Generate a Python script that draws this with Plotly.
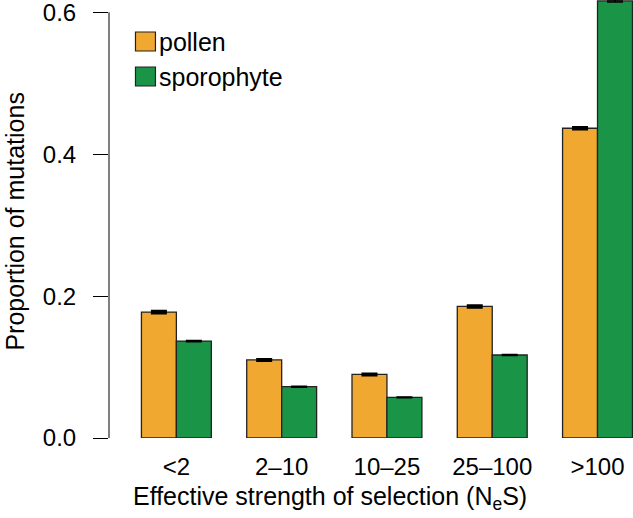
import plotly.graph_objects as go

categories = ["<2", "2–10", "10–25", "25–100", ">100"]
pollen = [0.1775, 0.110, 0.0896, 0.1854, 0.4366]
sporophyte = [0.1366, 0.0723, 0.0572, 0.117, 0.616]
pollen_err = [0.0015, 0.001, 0.001, 0.0015, 0.0015]
sporophyte_err = [0.0008, 0.0006, 0.0006, 0.0008, 0.0015]
y_ticks = [0.0, 0.2, 0.4, 0.6]
y_ticktext = ["0.0", "0.2", "0.4", "0.6"]

ORANGE = "#F0A830"
GREEN = "#1A9548"
FONT = "Liberation Sans, Arial, Helvetica, sans-serif"

W, H = 633, 518
L, R, T, B = 108.5, 0, 0, 80
pw, ph = W - L - R, H - T - B

def px(x):
    return (x - L) / pw

def py(y):
    return (H - B - y) / ph

fig = go.Figure()
fig.add_trace(go.Bar(
    x=categories, y=pollen, name="pollen",
    marker=dict(color=ORANGE, line=dict(color="#222", width=1.3)),
    error_y=dict(type="data", array=pollen_err, color="black", thickness=2.5, width=8),
))
fig.add_trace(go.Bar(
    x=categories, y=sporophyte, name="sporophyte",
    marker=dict(color=GREEN, line=dict(color="#222", width=1.3)),
    error_y=dict(type="data", array=sporophyte_err, color="black", thickness=1.5, width=8),
))

ymax = 0.6 * (H - B) / (H - B - 12.3)

fig.update_layout(
    width=W, height=H,
    margin=dict(l=L, r=R, t=T, b=B),
    paper_bgcolor="white", plot_bgcolor="white",
    barmode="group", bargap=0.336, bargroupgap=0,
    showlegend=False,
    font=dict(family=FONT, size=24, color="black"),
    xaxis=dict(
        type="category", range=[-0.64, 4.337],
        showline=False, showgrid=False, zeroline=False,
        ticks="", ticklabelstandoff=12,
        tickfont=dict(size=24, family=FONT),
    ),
    yaxis=dict(
        range=[0, ymax], showline=False, showgrid=False, zeroline=False,
        tickvals=y_ticks, ticktext=y_ticktext,
        ticks="outside", ticklen=15, tickwidth=1, tickcolor="black",
        ticklabelstandoff=12, ticklabeloverflow="allow",
        tickfont=dict(size=24, family=FONT),
    ),
)

# y axis line from 0 to 0.6
fig.add_shape(type="line", xref="paper", yref="y", x0=0, x1=0, y0=0, y1=0.6,
              line=dict(color="black", width=1))

# axis titles
fig.add_annotation(text="Effective strength of selection (N<sub>e</sub>S)",
                   xref="paper", yref="paper", x=px(330), y=py(498),
                   showarrow=False, font=dict(size=25, family=FONT),
                   xanchor="center", yanchor="middle")
fig.add_annotation(text="Proportion of mutations", textangle=-90,
                   xref="paper", yref="paper", x=px(14), y=py(222),
                   showarrow=False, font=dict(size=25, family=FONT),
                   xanchor="center", yanchor="middle")

# manual legend
legend_items = [("pollen", ORANGE, 32), ("sporophyte", GREEN, 67)]
for label, col, top in legend_items:
    fig.add_shape(type="rect", xref="paper", yref="paper",
                  x0=px(135), x1=px(155), y0=py(top + 19), y1=py(top),
                  fillcolor=col, line=dict(color="#222", width=1.2))
    fig.add_annotation(text=label, xref="paper", yref="paper",
                       x=px(157), y=py(top + 9.5), showarrow=False,
                       xanchor="left", yanchor="middle",
                       font=dict(size=25, family=FONT))

fig.write_html("out.html", config={"displayModeBar": False},
               post_script="document.body.style.margin='0';document.body.style.padding='0';")
